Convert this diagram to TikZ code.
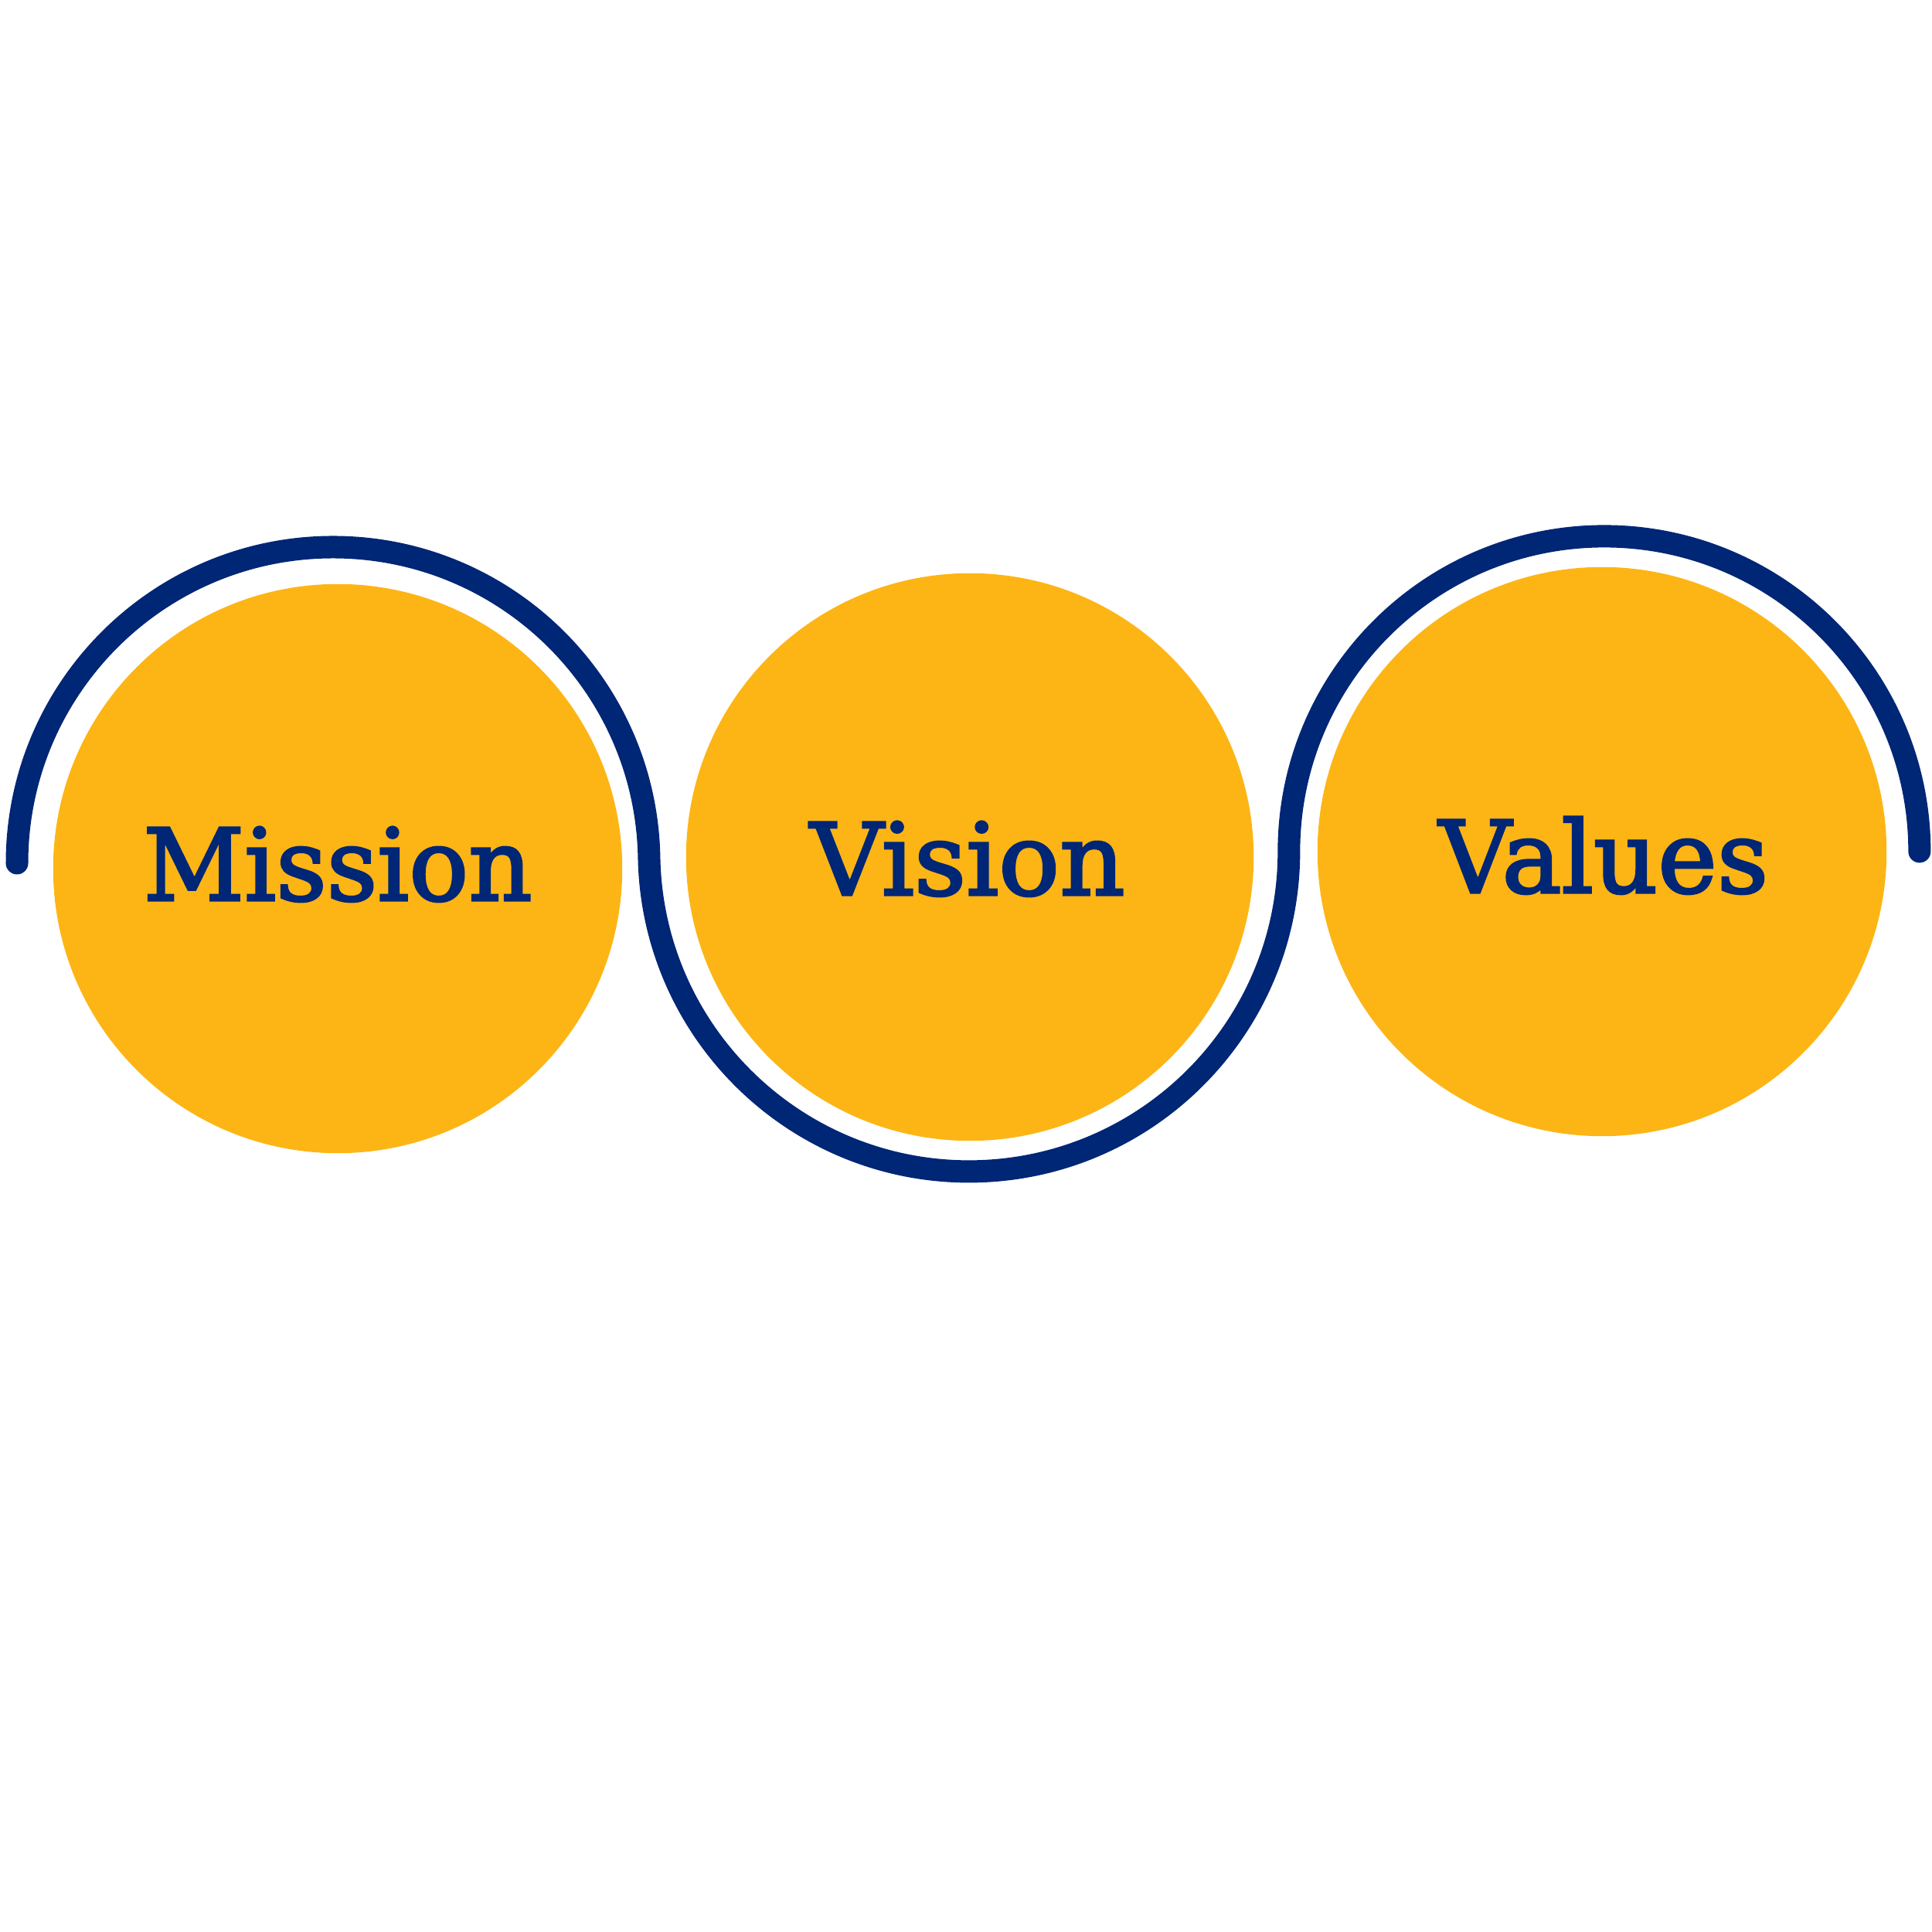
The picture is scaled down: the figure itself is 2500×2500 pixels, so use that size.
\documentclass[tikz,border=0pt]{standalone}
\usepackage{graphicx}
\usepackage{fontspec}
\newfontfamily\labelfont[FakeBold=2.5]{DejaVu Serif}
\definecolor{gold}{RGB}{253,181,21}
\definecolor{navy}{RGB}{0,38,118}
\begin{document}
\begin{tikzpicture}[x=0.01cm,y=0.01cm,
  disc/.style={circle, fill=gold, draw=none, inner sep=0pt, minimum size=#1},
  word/.style={anchor=base, text=navy, inner sep=0pt, font=\labelfont\fontsize{36.7}{44}\selectfont},
  wave/.style={draw=navy, line width=8.25pt, line cap=round}]
\useasboundingbox (0,0) rectangle (2500,2500);
\node[disc=7.36cm] (mission) at (437,1376) {};
\node[disc=7.34cm] (vision) at (1255,1391) {};
\node[disc=7.36cm] (values) at (2073,1398) {};
\coordinate (wavestart) at (22,1383);
\draw[wave] (wavestart) arc[start angle=180, end angle=1.05, radius=409]
  arc[start angle=181.05, end angle=360, radius=414]
  arc[start angle=180, end angle=0, radius=408] coordinate (waveend);
\node[word] (missiontext) at (437,1335) {\resizebox{5.03cm}{\height}{Mission}};
\node[word] (visiontext) at (1252,1342) {\resizebox{4.07cm}{\height}{Vision}};
\node[word] (valuestext) at (2075,1345) {\resizebox{4.26cm}{\height}{Values}};
\end{tikzpicture}
\end{document}
